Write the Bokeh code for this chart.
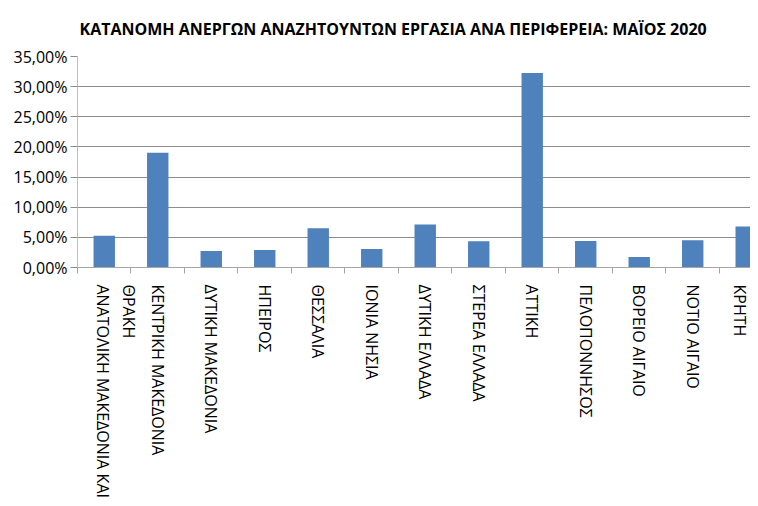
from bokeh.plotting import figure
from bokeh.models import Range1d, FixedTicker
from bokeh.embed import file_html
from bokeh.resources import INLINE

title_text = "ΚΑΤΑΝΟΜΗ ΑΝΕΡΓΩΝ ΑΝΑΖΗΤΟΥΝΤΩΝ ΕΡΓΑΣΙΑ ΑΝΑ ΠΕΡΙΦΕΡΕΙΑ: ΜΑΪΟΣ 2020"
regions = [
    "ΘΡΑΚΗ\nΑΝΑΤΟΛΙΚΗ ΜΑΚΕΔΟΝΙΑ ΚΑΙ",
    "ΚΕΝΤΡΙΚΗ ΜΑΚΕΔΟΝΙΑ",
    "ΔΥΤΙΚΗ ΜΑΚΕΔΟΝΙΑ",
    "ΗΠΕΙΡΟΣ",
    "ΘΕΣΣΑΛΙΑ",
    "ΙΟΝΙΑ ΝΗΣΙΑ",
    "ΔΥΤΙΚΗ ΕΛΛΑΔΑ",
    "ΣΤΕΡΕΑ ΕΛΛΑΔΑ",
    "ΑΤΤΙΚΗ",
    "ΠΕΛΟΠΟΝΝΗΣΟΣ",
    "ΒΟΡΕΙΟ ΑΙΓΑΙΟ",
    "ΝΟΤΙΟ ΑΙΓΑΙΟ",
    "ΚΡΗΤΗ",
]
shares_pct = [5.28, 19.05, 2.73, 2.89, 6.53, 3.05, 7.14, 4.36, 32.25, 4.40, 1.74, 4.51, 6.82]
y_ticks = [0, 5, 10, 15, 20, 25, 30, 35]
y_tick_labels = ["0,00%", "5,00%", "10,00%", "15,00%", "20,00%", "25,00%", "30,00%", "35,00%"]

W, H = 750, 500
n = len(regions)
centers = [i + 0.5 for i in range(n)]
bounds = list(range(n + 1))
# the wrapped two-line label is shifted by half a line so both lines sit centred on the bar
label_pos = [c + (0.22 if "\n" in r else 0.0) for c, r in zip(centers, regions)]

p = figure(width=W, height=H, output_backend="svg", toolbar_location=None,
           x_range=Range1d(0, 12.58), y_range=Range1d(0, 35),
           min_border_left=77, min_border_right=0, min_border_top=56,
           min_border_bottom=200, title=title_text)
p.outline_line_color = None
p.background_fill_color = "white"
p.border_fill_color = "white"

p.title.text_font = "Open Sans"
p.title.text_font_size = "16px"
p.title.text_font_style = "bold"
p.title.text_color = "#000000"
p.title.align = "left"
p.title.vertical_align = "top"
p.title.offset = 2
p.title.standoff = 30

p.vbar(x=centers, top=shares_pct, width=0.4, bottom=0,
       fill_color="#4f81bd", line_color=None)

# y axis
p.yaxis.ticker = FixedTicker(ticks=y_ticks)
p.yaxis.major_label_overrides = dict(zip(y_ticks, y_tick_labels))
p.yaxis.axis_line_color = "#bfbfbf"
p.yaxis.major_tick_line_color = "#8c8c8c"
p.yaxis.major_tick_out = 7
p.yaxis.major_tick_in = 0
p.yaxis.minor_tick_line_color = None
p.yaxis.major_label_standoff = 3
p.yaxis.major_label_text_font = "Open Sans"
p.yaxis.major_label_text_font_size = "16px"
p.yaxis.major_label_text_color = "#000000"

# x axis
p.xaxis.ticker = FixedTicker(ticks=label_pos, minor_ticks=bounds)
p.xaxis.major_label_overrides = dict(zip(label_pos, regions))
p.xaxis.major_label_orientation = "vertical"
p.xaxis.axis_line_color = "#a6a6a6"
p.xaxis.major_tick_line_color = None
p.xaxis.major_tick_out = 0
p.xaxis.major_tick_in = 0
p.xaxis.minor_tick_line_color = "#a6a6a6"
p.xaxis.minor_tick_out = 6
p.xaxis.minor_tick_in = 0
p.xaxis.major_label_standoff = 11
p.xaxis.major_label_text_font = "Open Sans"
p.xaxis.major_label_text_font_size = "16px"
p.xaxis.major_label_text_color = "#000000"

p.xgrid.grid_line_color = None
p.ygrid.grid_line_color = "#8c8c8c"
p.ygrid.grid_line_width = 1

open("out.html", "w").write(file_html(p, INLINE))
